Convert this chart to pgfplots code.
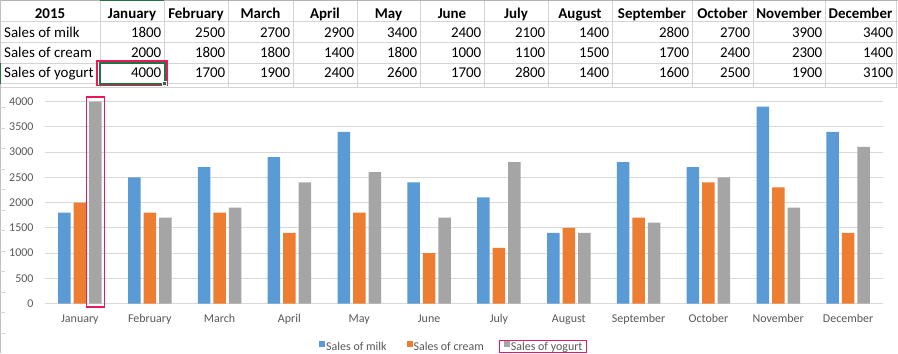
\documentclass[border=0pt]{standalone}
\usepackage{fontspec}
\setmainfont{Carlito}
\usepackage{pgfplots}
\pgfplotsset{compat=1.18}
\definecolor{milk}{HTML}{5B9BD5}
\definecolor{cream}{HTML}{ED7D31}
\definecolor{yogurt}{HTML}{A5A5A5}
\definecolor{gridc}{HTML}{D9D9D9}
\definecolor{sheetgrid}{HTML}{D4D4D4}
\definecolor{lab}{HTML}{595959}
\definecolor{xlgreen}{HTML}{217346}
\definecolor{hl}{HTML}{E6195A}
\newcommand\tfont{\fontsize{15}{18}\selectfont}
\newcommand\cfont{\fontsize{12}{14}\selectfont}
\begin{document}
\begin{tikzpicture}[x=1bp,y=1bp]
\path[use as bounding box, fill=white] (0,0) rectangle (898,353);
% sheet grid
\foreach \X in {100,164,228,293,357,420,484,548,612,692,753,825,896}
  \draw[sheetgrid, line width=1bp] (\X,352) -- (\X,266);
\foreach \Y in {331,310.5,290,269.5,266}
  \draw[sheetgrid, line width=1bp] (0,\Y) -- (898,\Y);
\draw[black!30, line width=1bp] (0,352.5) -- (898,352.5);
\draw[xlgreen, line width=2bp] (100,352.5) -- (164,352.5);
\draw[black!25, line width=1bp] (0.5,0) -- (0.5,353);
\draw[xlgreen, line width=1.5bp] (0.75,290) -- (0.75,269.5);
\foreach \Y in {245.5,225,...,0}
  \draw[sheetgrid, line width=1bp] (0.5,\Y) -- (4.5,\Y);
% table text
\node[anchor=base, inner sep=0pt, font=\tfont\bfseries] at (50,334.7) {2015};
\node[anchor=base west, inner sep=0pt, font=\tfont] at (4,315.3) {Sales of milk};
\node[anchor=base west, inner sep=0pt, font=\tfont] at (4,295.3) {Sales of cream};
\node[anchor=base west, inner sep=0pt, font=\tfont] at (4,275.3) {Sales of yogurt};
\foreach \l/\r/\m/\a/\b/\c in {100/164/January/1800/2000/4000,164/228/February/2500/1800/1700,228/293/March/2700/1800/1900,293/357/April/2900/1400/2400,357/420/May/3400/1800/2600,420/484/June/2400/1000/1700,484/548/July/2100/1100/2800,548/612/August/1400/1500/1400,612/692/September/2800/1700/1600,692/753/October/2700/2400/2500,753/825/November/3900/2300/1900,825/896/December/3400/1400/3100}{
  \node[anchor=base, inner sep=0pt, font=\tfont\bfseries] at ({(\l+\r)/2},334.7) {\m};
  \node[anchor=base east, inner sep=0pt, font=\tfont] at ({\r-2.5},315.3) {\a};
  \node[anchor=base east, inner sep=0pt, font=\tfont] at ({\r-2.5},295.3) {\b};
  \node[anchor=base east, inner sep=0pt, font=\tfont] at ({\r-2.5},275.3) {\c};
}
% selected cell
\draw[hl, line width=1.3bp] (97,292) rectangle (167,267.3);
\draw[xlgreen, line width=2bp] (99.8,290.2) rectangle (164.8,269.3);
\fill[xlgreen, draw=white, line width=0.8bp] (162.6,271.4) rectangle (166.6,267.4);
% chart
\begin{axis}[at={(45bp,49.5bp)}, anchor=south west, scale only axis,
  width=838bp, height=202bp,
  ybar=3bp, bar width=12.5bp,
  xmin=-0.5, xmax=11.5, ymin=0, ymax=4000,
  xtick={0,...,11},
  xticklabels={January,February,March,April,May,June,July,August,September,October,November,December},
  ytick={0,500,...,4000},
  scaled y ticks=false,
  axis line style={draw=none},
  major tick length=0pt,
  ymajorgrids, grid style={line width=1bp, color=gridc},
  ticklabel style={font=\cfont, text=lab},
  /pgf/number format/assume math mode=true,
  /pgf/number format/1000 sep={},
  xticklabel style={anchor=base, yshift=-18.5bp},
  yticklabel style={anchor=east, xshift=-8bp},
  legend columns=3,
  legend style={at={(0.3273,-0.2146)}, anchor=west, draw=none, fill=none,
    inner sep=0pt, font=\cfont, text=lab,
    nodes={inner sep=0pt, inner xsep=0.75bp},
    /tikz/every even column/.append style={column sep=19.5bp}},
  legend image code/.code={\fill[#1] (0bp,0bp) rectangle (6bp,6bp);},
]
\addplot[fill=milk, draw=none] coordinates {(0,1800) (1,2500) (2,2700) (3,2900) (4,3400) (5,2400) (6,2100) (7,1400) (8,2800) (9,2700) (10,3900) (11,3400)};
\addplot[fill=cream, draw=none] coordinates {(0,2000) (1,1800) (2,1800) (3,1400) (4,1800) (5,1000) (6,1100) (7,1500) (8,1700) (9,2400) (10,2300) (11,1400)};
\addplot[fill=yogurt, draw=none] coordinates {(0,4000) (1,1700) (2,1900) (3,2400) (4,2600) (5,1700) (6,2800) (7,1400) (8,1600) (9,2500) (10,1900) (11,3100)};
\legend{Sales of milk,Sales of cream,Sales of yogurt}
\end{axis}
\draw[hl, line width=1.3bp] (86.3,256) rectangle (104.8,46);
\draw[hl, line width=1.1bp] (499.5,12.3) rectangle (586.5,0.6);
\end{tikzpicture}
\end{document}
